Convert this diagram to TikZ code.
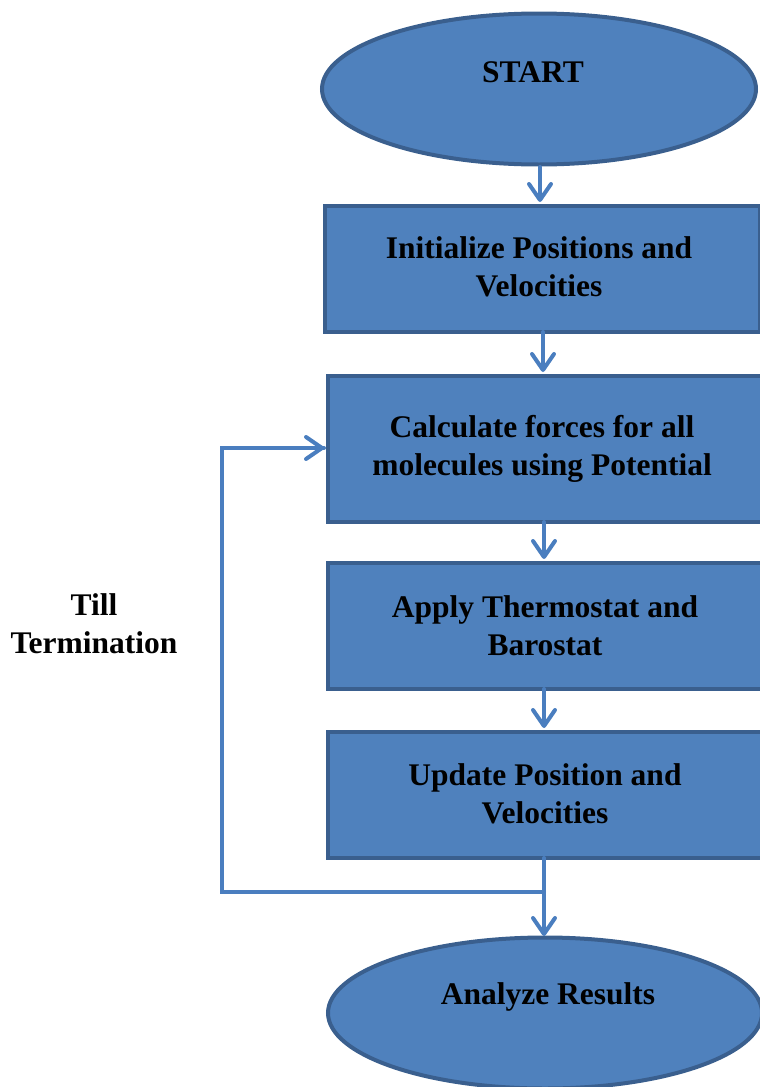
\documentclass[tikz,border=0pt]{standalone}
\usepackage{fontspec}
\setmainfont{Liberation Serif}
\usetikzlibrary{shapes.geometric,arrows.meta}
\definecolor{boxfill}{HTML}{4F81BD}
\definecolor{boxline}{HTML}{3A5F8E}
\definecolor{flow}{HTML}{4A7EBF}
\tikzset{
  px/.style={x=1pt,y=-1pt},
  stepbox/.style={draw=boxline,fill=boxfill,line width=4pt,rectangle,anchor=north west,
    inner sep=0pt},
  term/.style={draw=boxline,fill=boxfill,line width=4pt,ellipse,inner sep=0pt},
  label/.style={font=\fontsize{31.5}{38}\selectfont\bfseries,align=center,text=black},
  flowline/.style={draw=flow,line width=4pt,line cap=round,line join=miter},
  flowarrow/.style={flowline,-{Straight Barb[length=16pt,width=22pt,line width=4pt,round]}}
}
\begin{document}
\begin{tikzpicture}[px]
\useasboundingbox (0,0) rectangle (760,1087);
% terminals
\node[term,minimum width=434pt,minimum height=151pt] (start) at (539,89) {};
\node[label] at (533,72) {START};
% process steps
\node[stepbox,minimum width=435pt,minimum height=126pt] (init) at (323,204) {};
\node[label] at (539,267) {Initialize Positions and\\Velocities};
\node[stepbox,minimum width=442pt,minimum height=146pt] (force) at (326,374) {};
\node[label] at (542,449) {Calculate forces for all\\molecules using Potential};
\node[stepbox,minimum width=442pt,minimum height=126pt] (thermo) at (326,561) {};
\node[label] at (545,626) {Apply Thermostat and\\Barostat};
\node[stepbox,minimum width=442pt,minimum height=126pt] (update) at (326,730) {};
\node[label] at (545,794) {Update Position and\\Velocities};
\node[term,minimum width=434pt,minimum height=151pt] (end) at (545,1013) {};
\node[label] at (548,997) {Analyze Results};
% loop label
\node[label] (till) at (94,624) {Till\\Termination};
% connectors
\draw[flowarrow] (540,167) -- (540,202);
\draw[flowarrow] (543,332) -- (543,372);
\draw[flowarrow] (544,522) -- (544,559);
\draw[flowarrow] (544,689) -- (544,728);
\draw[flowarrow] (544,858) -- (544,936);
\coordinate (split) at (544,892);
\coordinate (lowleft) at (222,892);
\coordinate (upleft) at (222,448);
\coordinate (entry) at (324,448);
\draw[flowline] (split) -- (lowleft) -- (upleft) -- (entry);
\draw[flowarrow] (300,448) -- (entry);
\end{tikzpicture}
\end{document}
